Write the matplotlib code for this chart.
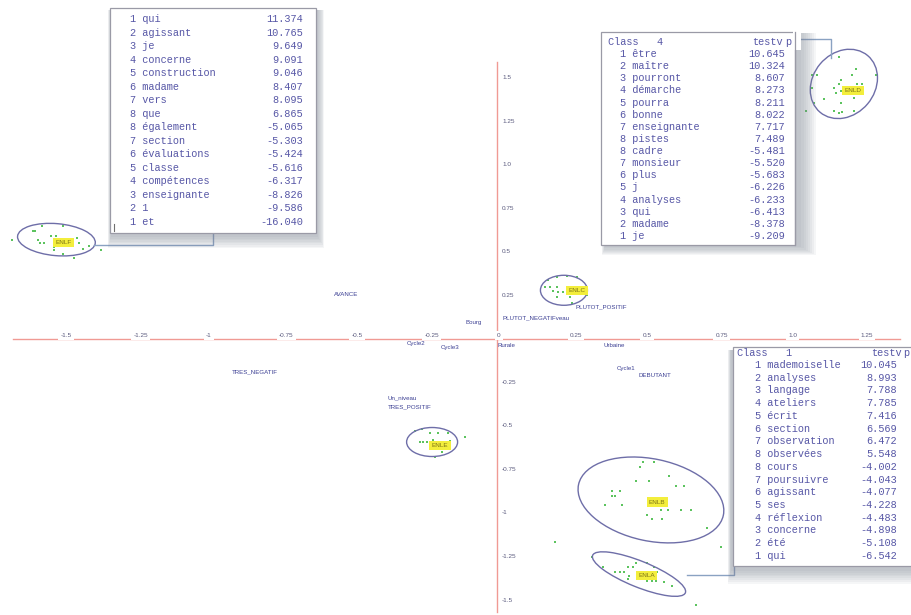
import matplotlib
matplotlib.use("Agg")
import matplotlib.pyplot as plt
from matplotlib.patches import Ellipse, Rectangle
from matplotlib.transforms import ScaledTranslation

# ---- axis ticks -------------------------------------------------------------
x_ticks = [-1.5, -1.25, -1, -0.75, -0.5, -0.25, 0, 0.25, 0.5, 0.75, 1.0, 1.25]
x_tick_labels = ["-1.5", "-1.25", "-1", "-0.75", "-0.5", "-0.25", "0",
                 "0.25", "0.5", "0.75", "1.0", "1.25"]
y_ticks = [1.5, 1.25, 1.0, 0.75, 0.5, 0.25, -0.25, -0.5, -0.75, -1, -1.25, -1.5]
y_tick_labels = ["1.5", "1.25", "1.0", "0.75", "0.5", "0.25", "-0.25", "-0.5",
                 "-0.75", "-1", "-1.25", "-1.5"]

# ---- supplementary modalities ---------------------------------------------
modalities = ["AVANCE", "TRES_NEGATIF", "Bourg", "PLUTOT_NEGATIFveau",
              "PLUTOT_POSITIF", "Cycle2", "Cycle3", "Rurale", "Urbaine",
              "Cycle1", "DEBUTANT", "Un_niveau", "TRES_POSITIF"]
mod_x = [-0.519, -0.832, -0.079, 0.134, 0.357, -0.278, -0.162, 0.031, 0.402,
         0.443, 0.543, -0.326, -0.299]
mod_y = [0.253, -0.190, 0.092, 0.121, 0.184, -0.023, -0.046, -0.040, -0.040,
         -0.172, -0.207, -0.339, -0.391]

# ---- classes: individuals, centres and label points -----------------------
class_names = ["ENLF", "ENLC", "ENLD", "ENLE", "ENLB", "ENLA"]

enlf_x = [-1.668, -1.596, -1.589, -1.565, -1.579, -1.572, -1.558, -1.531, -1.514,
          -1.490, -1.524, -1.521, -1.445, -1.438, -1.421, -1.401, -1.360, -1.452, -1.490]
enlf_y = [0.571, 0.623, 0.623, 0.651, 0.571, 0.549, 0.549, 0.594, 0.594,
          0.651, 0.526, 0.509, 0.583, 0.554, 0.520, 0.537, 0.514, 0.463, 0.491]

enlc_x = [0.175, 0.205, 0.240, 0.274, 0.164, 0.182, 0.205, 0.192, 0.209, 0.226,
          0.243, 0.205, 0.250, 0.301, 0.308, 0.257]
enlc_y = [0.337, 0.354, 0.360, 0.354, 0.297, 0.297, 0.297, 0.274, 0.269, 0.269,
          0.280, 0.240, 0.240, 0.291, 0.251, 0.206]

enld_x = [1.175, 1.082, 1.099, 1.219, 1.301, 1.233, 1.182, 1.175, 1.082, 1.158,
          1.164, 1.182, 1.236, 1.253, 1.123, 1.226, 1.089, 1.182, 1.062, 1.158,
          1.175, 1.185, 1.226]
enld_y = [1.623, 1.520, 1.520, 1.520, 1.520, 1.549, 1.491, 1.463, 1.440, 1.440,
          1.411, 1.423, 1.463, 1.463, 1.377, 1.383, 1.354, 1.354, 1.309, 1.309,
          1.297, 1.303, 1.309]

enle_x = [-0.281, -0.257, -0.229, -0.202, -0.168, -0.264, -0.253, -0.240, -0.229,
          -0.219, -0.161, -0.110, -0.219, -0.188, -0.212]
enle_y = [-0.531, -0.520, -0.543, -0.543, -0.543, -0.594, -0.594, -0.594, -0.594,
          -0.583, -0.589, -0.566, -0.634, -0.651, -0.680]

enlb_x = [0.500, 0.541, 0.490, 0.479, 0.524, 0.592, 0.616, 0.644, 0.394, 0.421,
          0.394, 0.404, 0.370, 0.428, 0.565, 0.586, 0.634, 0.668, 0.517, 0.531,
          0.568, 0.723, 0.199, 0.771]
enlb_y = [-0.709, -0.709, -0.737, -0.817, -0.817, -0.789, -0.846, -0.846, -0.874,
          -0.874, -0.903, -0.903, -0.954, -0.954, -0.983, -0.983, -0.983, -0.983,
          -1.011, -1.034, -1.034, -1.086, -1.166, -1.194]

enla_x = [0.325, 0.363, 0.404, 0.421, 0.438, 0.449, 0.466, 0.479, 0.455, 0.449,
          0.514, 0.541, 0.551, 0.514, 0.531, 0.548, 0.575, 0.603, 0.685]
enla_y = [-1.251, -1.309, -1.337, -1.337, -1.337, -1.309, -1.309, -1.286, -1.360,
          -1.377, -1.286, -1.309, -1.337, -1.389, -1.389, -1.389, -1.394, -1.417,
          -1.531]

class_points = [(enlf_x, enlf_y), (enlc_x, enlc_y), (enld_x, enld_y),
                (enle_x, enle_y), (enlb_x, enlb_y), (enla_x, enla_y)]
centre_x = [-1.514, 0.230, 1.192, -0.223, 0.529, 0.488]
centre_y = [0.571, 0.280, 1.466, -0.592, -0.925, -1.351]
label_x = [-1.490, 0.275, 1.223, -0.196, 0.550, 0.515]
label_y = [0.554, 0.280, 1.429, -0.611, -0.937, -1.360]

# ---- characteristic words (test-values) ----------------------------------
words_f = ["qui", "agissant", "je", "concerne", "construction", "madame", "vers",
           "que", "également", "section", "évaluations", "classe", "compétences",
           "enseignante", "1", "et"]
ranks_f = [1, 2, 3, 4, 5, 6, 7, 8, 8, 7, 6, 5, 4, 3, 2, 1]
testv_f = [11.374, 10.765, 9.649, 9.091, 9.046, 8.407, 8.095, 6.865, -5.065,
           -5.303, -5.424, -5.616, -6.317, -8.826, -9.586, -16.040]

words_4 = ["être", "maître", "pourront", "démarche", "pourra", "bonne",
           "enseignante", "pistes", "cadre", "monsieur", "plus", "j", "analyses",
           "qui", "madame", "je"]
ranks_4 = [1, 2, 3, 4, 5, 6, 7, 8, 8, 7, 6, 5, 4, 3, 2, 1]
testv_4 = [10.645, 10.324, 8.607, 8.273, 8.211, 8.022, 7.717, 7.489, -5.481,
           -5.520, -5.683, -6.226, -6.233, -6.413, -8.378, -9.209]

words_1 = ["mademoiselle", "analyses", "langage", "ateliers", "écrit", "section",
           "observation", "observées", "cours", "poursuivre", "agissant", "ses",
           "réflexion", "concerne", "été", "qui"]
ranks_1 = [1, 2, 3, 4, 5, 6, 7, 8, 8, 7, 6, 5, 4, 3, 2, 1]
testv_1 = [10.045, 8.993, 7.788, 7.785, 7.416, 6.569, 6.472, 5.548, -4.002,
           -4.043, -4.077, -4.228, -4.483, -4.898, -5.108, -6.542]

# ---- styles ---------------------------------------------------------------
AXIS_RED = "#f09a94"
NAVY = "#3b3f93"
TICK_COL = "#5a5a7e"
POINT_GREEN = "#5cc35e"
ELL_COL = "#6e6ea8"
TABLE_TXT = "#5757a6"
LINK_COL = "#8aa2c2"

W, H = 912, 615
fig = plt.figure(figsize=(W / 100, H / 100), dpi=100)
fig.patch.set_facecolor("white")

ax = fig.add_axes([0, 0, 1, 1])
ax.set_xlim(-497 / 291, (W - 497) / 291)
ax.set_ylim((339 - H) / 174, 339 / 174)
ax.axis("off")

# axes through the origin
ax.plot([-1.663, 1.385], [0, 0], color=AXIS_RED, lw=1.0, zorder=1)
ax.plot([0, 0], [-1.569, 1.592], color=AXIS_RED, lw=1.0, zorder=1)

for v, s in zip(x_ticks, x_tick_labels):
    ax.text(v, 0, s, ha="left", va="center", fontsize=4.6, color=TICK_COL,
            family="Liberation Sans", zorder=2,
            transform=ax.transData + ScaledTranslation(0, 0.035, fig.dpi_scale_trans),
            bbox=dict(boxstyle="square,pad=0.35", fc="white", ec="none"))
for v, s in zip(y_ticks, y_tick_labels):
    ax.text(0, v, s, ha="left", va="center", fontsize=4.6, color=TICK_COL,
            family="Liberation Sans", zorder=2,
            transform=ax.transData + ScaledTranslation(0.05, 0, fig.dpi_scale_trans))

# modality labels
for s, x, y in zip(modalities, mod_x, mod_y):
    ax.text(x, y, s, ha="center", va="center", fontsize=4.4, color=NAVY,
            family="Liberation Sans", zorder=3)

# ellipse shapes given in pixels: width, height, angle
ell_shape = [(78, 32, -5), (47, 30, 0), (74, 62, 50), (51, 29, 0),
             (148, 82, -12), (100, 26, -22)]

for name, (px, py), cx, cy, lx, ly, (ew, eh, ea) in zip(
        class_names, class_points, centre_x, centre_y, label_x, label_y, ell_shape):
    ax.scatter(px, py, s=4, marker="s", color=POINT_GREEN, lw=0, zorder=4)
    ell = Ellipse((0, 0), ew / 100, eh / 100, angle=ea, fill=False,
                  ec=ELL_COL, lw=1.0, zorder=5,
                  transform=fig.dpi_scale_trans + ScaledTranslation(cx, cy, ax.transData))
    ax.add_patch(ell)
    ax.text(lx, ly, name, ha="center", va="center", fontsize=4.6,
            color="#7d7416", family="Liberation Sans", zorder=6,
            bbox=dict(boxstyle="square,pad=0.35", fc="#f3ee3c", ec="none"))

# ---- overlay in pixel units for the result tables -------------------------
ov = fig.add_axes([0, 0, 1, 1])
ov.set_xlim(0, W)
ov.set_ylim(H, 0)
ov.axis("off")
ov.patch.set_alpha(0)


def shadowed_box(l, t, r, b, dx=4, dy=8):
    for k in range(8, 0, -1):
        ov.add_patch(Rectangle((l - k * 0.4 + dx * 0.3, t + dy * 0.3),
                               (r - l) + k * 0.8 + dx * k / 8,
                               (b - t) + k * 0.6 + dy * k / 8,
                               fc="#7a8290", ec="none", alpha=0.07, zorder=1))
    ov.add_patch(Rectangle((l, t), r - l, b - t, fc="white", ec="#9a9aa6",
                           lw=0.9, zorder=2))


def table(first_row, step, ranks, words, values, word_x, value_r,
          header=None, header_y=None):
    mono = dict(family="Liberation Mono", fontsize=7.4, color=TABLE_TXT, zorder=3)
    if header is not None:
        for hx, hs in header:
            ov.text(hx, header_y, hs, ha="left", va="center", **mono)
    y = first_row
    for rk, w, v in zip(ranks, words, values):
        ov.text(word_x, y, f"{rk} {w}", ha="left", va="center", **mono)
        ov.text(value_r, y, f"{v:.3f}", ha="right", va="center", **mono)
        y += step


# left table (class F)
ov.plot([94, 213, 213], [245, 245, 233], color=LINK_COL, lw=1.0, zorder=0.5)
shadowed_box(110, 8, 316, 233)
table(19, 13.53, ranks_f, words_f, testv_f, 130, 303)
ov.plot([114, 114], [224, 231], color="#707070", lw=0.8, zorder=3)

# upper right table (class 4)
ov.plot([792, 831, 831], [39, 39, 58], color=LINK_COL, lw=1.0, zorder=0.5)
shadowed_box(601, 32, 795, 245, dx=14, dy=4)
table(54, 12.13, ranks_4, words_4, testv_4, 620, 785,
      header=[(608, "Class   4"), (752, "testv"), (785, "p")], header_y=42)
ov.add_patch(Rectangle((793, 30), 8, 20, fc="white", ec="none", zorder=2.5))
ov.plot([795, 795], [32, 245], color="#9a9aa6", lw=0.9, zorder=2.6)

# lower right table (class 1)
ov.plot([687, 734, 734], [575, 575, 566], color=LINK_COL, lw=1.0, zorder=0.5)
shadowed_box(733, 347, 925, 566, dx=-6, dy=10)
table(365, 12.73, ranks_1, words_1, testv_1, 755, 897,
      header=[(737, "Class   1"), (871, "testv"), (903, "p")], header_y=353)

fig.savefig("out.png", dpi=100, facecolor="white")
